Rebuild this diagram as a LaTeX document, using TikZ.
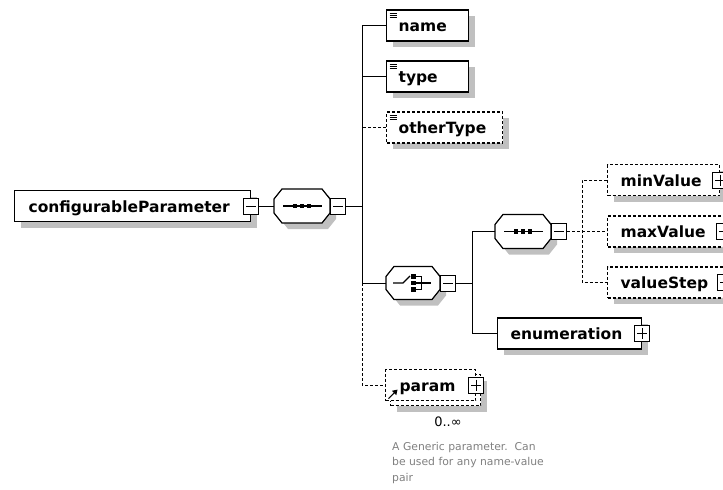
\documentclass[tikz,border=0pt]{standalone}
\usepackage{fontspec}
\setmainfont{DejaVu Sans}
\usetikzlibrary{shadows,calc}
\definecolor{shadowgray}{RGB}{192,192,192}
\definecolor{notegray}{RGB}{128,128,128}

% octagonal outline of a compositor, built on an invisible node
\newcommand\compoutline[2]{%
  \path[#2] ([xshift=8pt]#1.north west) -- ([xshift=-8pt]#1.north east)
    -- ([yshift=-10pt]#1.north east) -- ([yshift=10pt]#1.south east)
    -- ([xshift=-8pt]#1.south east) -- ([xshift=8pt]#1.south west)
    -- ([yshift=10pt]#1.south west) -- ([yshift=-10pt]#1.north west) -- cycle;}
\newcommand\compositor[1]{%
  \begin{scope}[transform canvas={shift={(6pt,-6pt)}}]
    \compoutline{#1}{fill=shadowgray}
  \end{scope}
  \compoutline{#1}{draw, fill=white, line width=1.2pt}}

\tikzset{
  elembase/.style={draw, fill=white, line width=1.2pt, rectangle,
    minimum height=31pt, inner ysep=0pt, text height=12pt, text depth=0pt,
    align=left, font=\fontsize{15.5}{18}\selectfont\bfseries},
  elem/.style={elembase,
    drop shadow={shadow xshift=6pt, shadow yshift=-6pt, fill=shadowgray, opacity=1}},
  optelem/.style={elem, dash pattern=on 3pt off 2pt},
  optflat/.style={elembase, dash pattern=on 3pt off 2pt},
  compbox/.style={rectangle, minimum width=56pt, minimum height=34pt, inner sep=0pt, outer sep=0pt},
  tog/.style={draw, fill=white, line width=1pt, inner sep=0pt,
    minimum width=15pt, minimum height=16pt},
  togminus/.style={tog, path picture={
    \draw[line width=1pt] ([xshift=2.5pt]path picture bounding box.west)
      -- ([xshift=-2.5pt]path picture bounding box.east);}},
  togplus/.style={tog, path picture={
    \draw[line width=1pt] ([xshift=2.5pt]path picture bounding box.west)
      -- ([xshift=-2.5pt]path picture bounding box.east);
    \draw[line width=1pt] ([yshift=-2.5pt]path picture bounding box.north)
      -- ([yshift=2.5pt]path picture bounding box.south);}},
  conn/.style={line width=1pt},
  optconn/.style={conn, dash pattern=on 3pt off 2pt},
}

\begin{document}
\begin{tikzpicture}[x=1pt, y=-1pt]
\useasboundingbox (0,0) rectangle (723,490);
\clip (0,0) rectangle (723,490);

% root element and its sequence
\node[elem, text width=208pt, inner xsep=14pt, anchor=west] (cfg) at (14,206) {\mbox{configurableParameter}};
\node[compbox] (seqA) at (302,206) {};
\compositor{seqA}
\draw[line width=1.1pt] ([xshift=-19pt]seqA.center) -- ([xshift=20pt]seqA.center);
\foreach \dx in {-7,0,7} \fill ([xshift=\dx pt]seqA.center) +(-2.4,-2.2) rectangle +(2.4,2.2);
\node[togminus] (cfgT) at (cfg.east) {};
\node[togminus, anchor=west] (seqAT) at (seqA.east) {};

% children of the sequence
\node[elem, text width=58pt, inner xsep=12pt, anchor=west] (name) at (386,25.5) {\mbox{name}};
\node[elem, text width=58pt, inner xsep=12pt, anchor=west] (type) at (386,76.5) {\mbox{type}};
\node[optelem, text width=92pt, inner xsep=12pt, anchor=west] (otherT) at (386,127.5) {\mbox{otherType}};
\foreach \n in {name,type,otherT}
  \foreach \dy in {3.5,5.8,8.1}
    \draw[line width=0.8pt] ([shift={(3.5pt,-\dy pt)}]\n.north west) -- ++(7.5,0);

% choice compositor
\node[compbox, minimum width=54pt, minimum height=33pt] (choice) at (413,283) {};
\compositor{choice}
\draw[line width=1.1pt] ($(choice.center)+(-20,0)$) -- ++(10,0) -- ++(7,-7);
\foreach \dy in {-6.5,0,6.5} \fill ($(choice.center)+(0.5,\dy)$) +(-2.2,-2.2) rectangle +(2.2,2.2);
\draw[line width=1.1pt] ($(choice.center)+(2.5,-6.5)$) -- ++(6,0) -- ++(0,13) -- ++(-6,0);
\draw[line width=1.1pt] ($(choice.center)+(2.5,0)$) -- ++(15,0);
\node[togminus, anchor=west] (choiceT) at (choice.east) {};

% inner sequence with optional bounds
\node[compbox] (seqB) at (523,231.5) {};
\compositor{seqB}
\draw[line width=1.1pt] ([xshift=-19pt]seqB.center) -- ([xshift=20pt]seqB.center);
\foreach \dx in {-7,0,7} \fill ([xshift=\dx pt]seqB.center) +(-2.4,-2.2) rectangle +(2.4,2.2);
\node[togminus, anchor=west] (seqBT) at (seqB.east) {};

\node[optelem, text width=86pt, inner xsep=13pt, anchor=west] (minV) at (607,180) {\mbox{minValue}};
\node[optelem, text width=90pt, inner xsep=13pt, anchor=west] (maxV) at (607,231.5) {\mbox{maxValue}};
\node[optelem, text width=91pt, inner xsep=13pt, anchor=west] (stepV) at (607,282.5) {\mbox{valueStep}};
\node[togplus] (minT) at (minV.east) {};
\node[togplus] (maxT) at (maxV.east) {};
\node[togplus] (stepT) at (stepV.east) {};

\node[elem, text width=118pt, inner xsep=13pt, anchor=west] (enum) at (497,333.5) {\mbox{enumeration}};
\node[togplus] (enumT) at (enum.east) {};

% repeated reference element, with its reference arrow
\node[optelem, minimum width=90pt, anchor=west] (paramB) at (390,390) {};
\node[optflat, text width=62pt, inner xsep=14pt, anchor=west] (paramF) at (385,385) {\mbox{param}};
\node[togplus] (paramT) at (paramF.east) {};
\coordinate (refbase) at ($(paramF.south west)+(3.5,-2.5)$);
\coordinate (reftip) at ($(refbase)+(9,-9)$);
\draw[line width=1.2pt] (refbase) -- ($(reftip)+(-2,2)$);
\fill (reftip) -- ($(reftip)+(-1.2,5.6)$) -- ($(reftip)+(-5.6,1.2)$) -- cycle;
\node[font=\fontsize{13}{15}\selectfont] (occ) at (448,422) {0..∞};
\node[anchor=north west, inner sep=0pt, align=left, text=notegray,
  font=\fontsize{10.8}{15.5}\selectfont] (note) at (392,442)
  {A Generic parameter.\ \ Can\\be used for any name-value\\pair};

% connector buses
\coordinate (busx) at (362,0);
\coordinate (subx) at (472,0);
\coordinate (optx) at (582,0);

\draw[conn] (cfgT.east) -- (seqA.west);
\draw[conn] (seqAT.east) -- (busx |- seqAT.east);
\draw[conn] (name.west) -- (busx |- name.west) -- (busx |- choice.west) -- (choice.west);
\draw[conn] (type.west) -- (busx |- type.west);
\draw[optconn] (otherT.west) -- (busx |- otherT.west);
\draw[optconn] (busx |- choice.west) -- (busx |- paramF.west) -- (paramF.west);

\draw[conn] (choiceT.east) -- (subx |- choiceT.east);
\draw[conn] (seqB.west) -- (subx |- seqB.west) -- (subx |- enum.west) -- (enum.west);

\draw[optconn] (seqBT.east) -- (optx |- seqBT.east);
\draw[optconn] (minV.west) -- (optx |- minV.west) -- (optx |- stepV.west) -- (stepV.west);
\draw[optconn] (optx |- maxV.west) -- (maxV.west);
\end{tikzpicture}
\end{document}
